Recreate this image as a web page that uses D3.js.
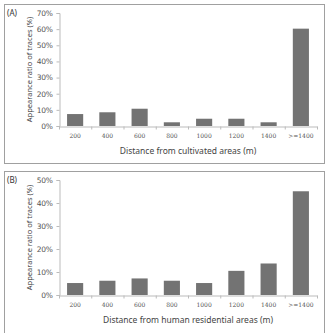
<!DOCTYPE html>
<html>
<head>
<meta charset="utf-8">
<script src="https://cdn.jsdelivr.net/npm/d3@7"></script>
<style>
  body { margin: 0; background: #fff; }
  svg { display: block; font-family: "Noto Sans", "DejaVu Sans", sans-serif; }
</style>
</head>
<body>
<script>
const categories = ['200', '400', '600', '800', '1000', '1200', '1400', '>=1400'];
const cultivatedValues = [7.4, 8.5, 10.7, 2.3, 4.5, 4.5, 2.3, 60.3];
const residentialValues = [5.2, 6.2, 7.2, 6.2, 5.2, 10.5, 13.7, 45.1];
const cultivatedTicks = [0, 10, 20, 30, 40, 50, 60, 70];
const residentialTicks = [0, 10, 20, 30, 40, 50];

const width = 328, height = 333;
const svg = d3.select('body').append('svg')
	.attr('width', width)
	.attr('height', height);

const panels = [
	{ label: '(A)', values: cultivatedValues, ticks: cultivatedTicks, max: 70,
	  title: 'Distance from cultivated areas (m)', box: [4, 4, 320, 159], plotTop: 13, plotBottom: 126 },
	{ label: '(B)', values: residentialValues, ticks: residentialTicks, max: 50,
	  title: 'Distance from human residential areas (m)', box: [4, 171, 320, 170], plotTop: 180, plotBottom: 295 }
];

panels.forEach(p => {
	const g = svg.append('g');
	g.append('rect')
		.attr('x', p.box[0] + 0.5).attr('y', p.box[1] + 0.5)
		.attr('width', p.box[2]).attr('height', p.box[3])
		.attr('fill', 'none').attr('stroke', '#a0a0a0').attr('stroke-width', 1);

	g.append('text')
		.attr('x', 7).attr('y', p.box[1] + 12)
		.attr('font-size', 8).attr('fill', '#333')
		.text(p.label);

	const x = d3.scaleBand()
		.domain(categories)
		.range([59, 317])
		.paddingInner(0.5)
		.paddingOuter(0.25);

	const y = d3.scaleLinear()
		.domain([0, p.max])
		.range([p.plotBottom, p.plotTop]);

	// bars
	g.selectAll('rect.bar')
		.data(p.values)
		.join('rect')
		.attr('class', 'bar')
		.attr('x', (d, i) => x(categories[i]))
		.attr('width', x.bandwidth())
		.attr('y', d => y(d))
		.attr('height', d => y(0) - y(d))
		.attr('fill', '#737373');

	// y axis
	const yAxis = g.append('g')
		.attr('transform', 'translate(59.5,0)')
		.call(d3.axisLeft(y).tickValues(p.ticks).tickSize(3).tickPadding(4).tickFormat(d => d + '%'));
	yAxis.select('.domain').attr('stroke', '#bbb');
	yAxis.selectAll('.tick line').attr('stroke', '#bbb');
	yAxis.selectAll('text').attr('font-size', 7.5).attr('fill', '#555').attr('font-family', '"DejaVu Sans", sans-serif').attr('letter-spacing', -0.3);

	// x axis
	const xAxis = g.append('g')
		.attr('transform', `translate(0,${p.plotBottom + 0.5})`)
		.call(d3.axisBottom(x).tickSize(0).tickPadding(7).tickSizeOuter(0));
	xAxis.select('.domain').attr('stroke', '#bbb');
	xAxis.selectAll('text').attr('font-size', 6).attr('fill', '#555').attr('font-family', '"DejaVu Serif", serif');
	// category boundary ticks
	const step = x.step();
	const bounds = d3.range(categories.length + 1).map(i => 59 + i * (317 - 59) / categories.length);
	xAxis.selectAll('line.sep')
		.data(bounds)
		.join('line')
		.attr('class', 'sep')
		.attr('x1', d => d + 0.5).attr('x2', d => d + 0.5)
		.attr('y1', 0).attr('y2', 3)
		.attr('stroke', '#bbb');

	// axis titles
	g.append('text')
		.attr('x', (59 + 317) / 2)
		.attr('y', p.plotBottom + 28)
		.attr('text-anchor', 'middle')
		.attr('font-size', 8.5).attr('fill', '#444')
		.text(p.title);

	g.append('text')
		.attr('transform', `translate(32,${(p.plotTop + p.plotBottom) / 2}) rotate(-90)`)
		.attr('text-anchor', 'middle')
		.attr('font-size', 7.5).attr('fill', '#444')
		.text('Appearance ratio of traces (%)');
});
</script>
</body>
</html>
